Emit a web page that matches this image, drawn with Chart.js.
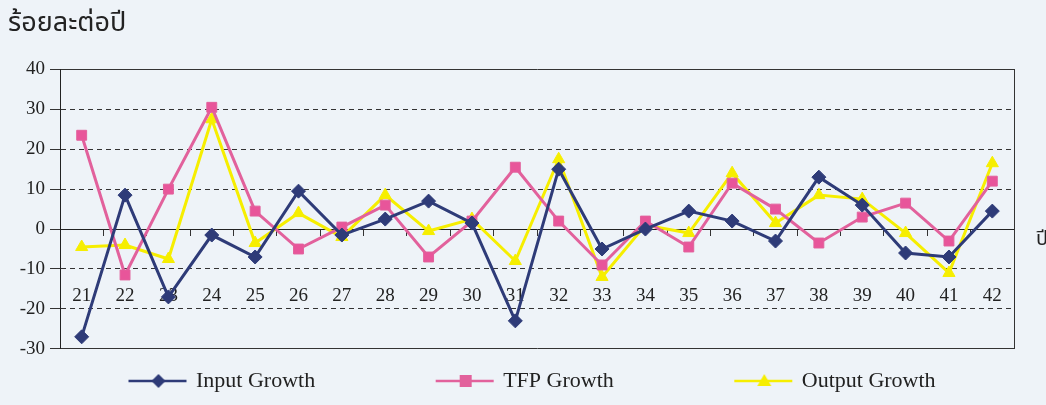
<!DOCTYPE html>
<html>
<head>
<meta charset="utf-8">
<script src="https://cdn.jsdelivr.net/npm/chart.js@4"></script>
<style>
  html, body { margin: 0; padding: 0; background: #eef3f8; }
  #wrap { width: 1046px; height: 405px; }
</style>
</head>
<body>
<div id="wrap"><canvas id="chart"></canvas></div>
<script>
const years = ['21', '22', '23', '24', '25', '26', '27', '28', '29', '30', '31',
  '32', '33', '34', '35', '36', '37', '38', '39', '40', '41', '42'];
const inputGrowth = [-27, 8.5, -17, -1.5, -7, 9.5, -1.5, 2.5, 7, 1.5, -23,
  15, -5, 0, 4.5, 2, -3, 13, 6, -6, -7, 4.5];
const tfpGrowth = [23.5, -11.5, 10, 30.5, 4.5, -5, 0.5, 6, -7, 2, 15.5,
  2, -9, 2, -4.5, 11.5, 5, -3.5, 3, 6.5, -3, 12];
const outputGrowth = [-4.5, -4, -7.5, 27.5, -3.5, 4, -2, 8.5, -0.5, 2.5, -8,
  17.5, -12, 1, -1, 14, 1.5, 8.5, 7.5, -1, -11, 16.5];
const yTicks = [-30, -20, -10, 0, 10, 20, 30, 40];

const serif = "'Liberation Serif', 'DejaVu Serif', serif";
const BLUE = '#2e3b78';
const PINK = '#e2619c';
const YELLOW = '#f6ee00';

// legend icon: short line with the marker on it (Excel style)
function legendIcon(color, style) {
  const c = document.createElement('canvas');
  c.width = 180; c.height = 24;
  const g = c.getContext('2d');
  g.strokeStyle = color;
  g.lineWidth = 2.5;
  g.beginPath(); g.moveTo(118, 12); g.lineTo(176, 12); g.stroke();
  g.fillStyle = color;
  const x = 148, y = 12;
  g.beginPath();
  if (style === 'diamond') {
    g.moveTo(x, y - 7); g.lineTo(x + 7, y); g.lineTo(x, y + 7); g.lineTo(x - 7, y);
  } else if (style === 'square') {
    g.rect(x - 6, y - 6, 12, 12);
  } else {
    g.moveTo(x, y - 7); g.lineTo(x + 7, y + 5); g.lineTo(x - 7, y + 5);
  }
  g.closePath(); g.fill();
  return c;
}
const icons = [legendIcon(BLUE, 'diamond'), legendIcon(PINK, 'square'), legendIcon(YELLOW, 'triangle')];

const yearLabel = {
  id: 'yearLabel',
  afterDraw(chart) {
    const { ctx } = chart;
    const y = chart.scales.y.getPixelForValue(0);
    ctx.save();
    ctx.fillStyle = '#222';
    ctx.font = "20px 'Noto Sans Thai', " + serif;
    ctx.textBaseline = 'middle';
    ctx.fillText('ปี', 1036, y + 12);
    ctx.restore();
  }
};

new Chart(document.getElementById('chart'), {
  type: 'line',
  data: {
    labels: years,
    datasets: [
      {
        label: 'Input Growth',
        data: inputGrowth,
        borderColor: BLUE,
        backgroundColor: BLUE,
        borderWidth: 3,
        pointStyle: 'rectRot',
        pointRadius: 7,
        pointBorderWidth: 1,
        tension: 0
      },
      {
        label: 'TFP Growth',
        data: tfpGrowth,
        borderColor: PINK,
        backgroundColor: '#e8559a',
        borderWidth: 3,
        pointStyle: 'rect',
        pointRadius: 7,
        pointBorderWidth: 1,
        tension: 0
      },
      {
        label: 'Output Growth',
        data: outputGrowth,
        borderColor: YELLOW,
        backgroundColor: YELLOW,
        borderWidth: 3,
        pointStyle: 'triangle',
        pointRadius: 7,
        pointBorderWidth: 1,
        tension: 0
      }
    ]
  },
  options: {
    responsive: true,
    maintainAspectRatio: false,
    animation: false,
    layout: { padding: { left: 8, right: 31, top: 4, bottom: 3 } },
    scales: {
      x: {
        type: 'category',
        position: { y: 0 },
        offset: true,
        afterFit(scale) {
          // labels sit inside the plot, no side padding needed
          scale.paddingLeft = 0;
          scale.paddingRight = 0;
        },
        grid: {
          offset: true,
          drawOnChartArea: false,
          drawTicks: true,
          tickLength: 6,
          tickColor: '#333'
        },
        border: { display: true, color: '#222', width: 1 },
        ticks: {
          color: '#222',
          padding: 50,
          maxRotation: 0,
          autoSkip: false,
          font: { family: serif, size: 19 }
        }
      },
      y: {
        min: -30,
        max: 40,
        afterBuildTicks(scale) {
          scale.ticks = yTicks.map(v => ({ value: v }));
        },
        afterFit(scale) { scale.width = 52; },
        grid: {
          color: ctx => (ctx.tick && ctx.tick.value === 0 ? 'rgba(0,0,0,0)' : '#333'),
          lineWidth: 1,
          tickLength: 10,
          tickColor: '#333'
        },
        border: {
          display: true,
          color: '#222',
          width: 1,
          dash: ctx => (ctx.tick && (ctx.tick.value === 40 || ctx.tick.value === -30) ? [] : [5, 4])
        },
        ticks: {
          color: '#222',
          padding: 5,
          font: { family: serif, size: 19 }
        }
      },
      y2: {
        position: 'right',
        min: -30,
        max: 40,
        afterFit(scale) { scale.width = 1; },
        ticks: { display: false },
        grid: { drawOnChartArea: false, drawTicks: false },
        border: { display: true, color: '#333', width: 1 }
      }
    },
    plugins: {
      title: {
        display: true,
        text: 'ร้อยละต่อปี',
        align: 'start',
        color: '#222',
        font: { family: "'Noto Sans Thai', " + serif, size: 27, weight: 'normal' },
        padding: { top: 5, bottom: 28 }
      },
      legend: {
        position: 'bottom',
        align: 'start',
        title: {
          display: true,
          text: ' ',
          font: { size: 1 },
          padding: { top: 0, bottom: 12 }
        },
        labels: {
          usePointStyle: true,
          pointStyleWidth: 169,
          padding: 8,
          color: '#222',
          font: { family: serif, size: 22 },
          generateLabels(chart) {
            return chart.data.datasets.map((ds, i) => ({
              text: ds.label,
              pointStyle: icons[i],
              fillStyle: ds.borderColor,
              strokeStyle: ds.borderColor,
              lineWidth: 0,
              fontColor: '#222',
              hidden: false,
              datasetIndex: i
            }));
          }
        }
      },
      tooltip: { enabled: false }
    }
  },
  plugins: [yearLabel]
});
</script>
</body>
</html>
